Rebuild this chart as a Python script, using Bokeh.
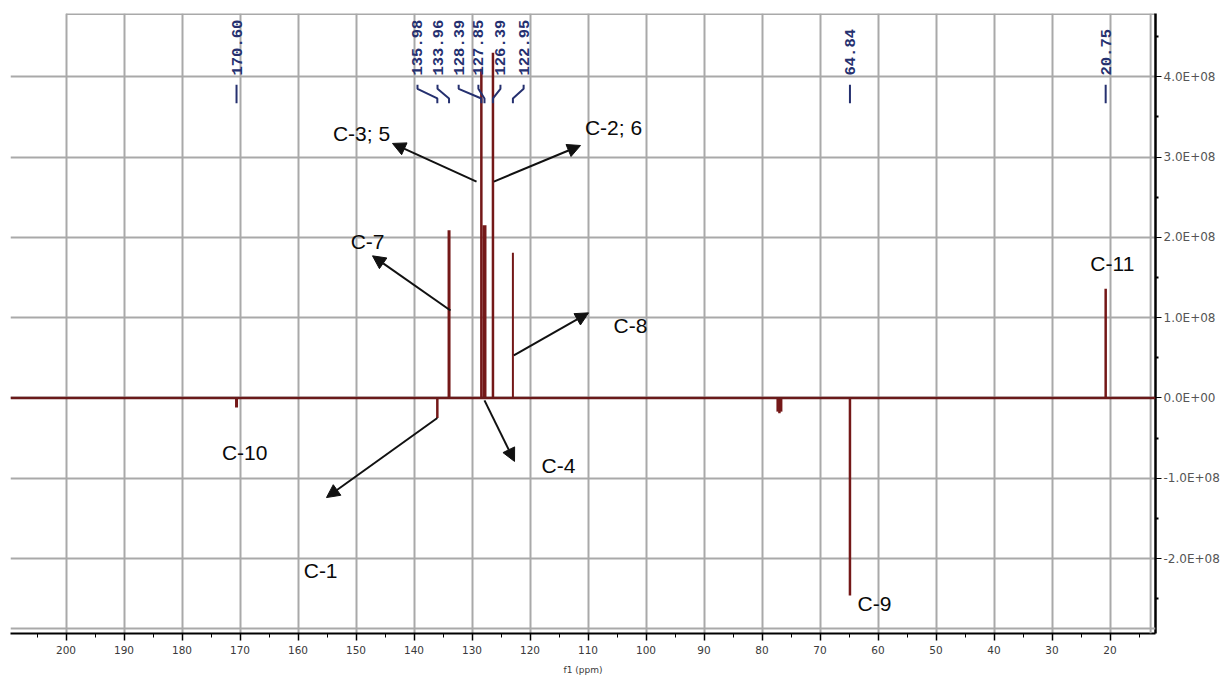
import math
from bokeh.plotting import figure
from bokeh.models import Range1d, Span, Arrow, NormalHead, FixedTicker, ColumnDataSource
from bokeh.core.properties import value
from bokeh.embed import file_html
from bokeh.resources import INLINE

# ---------------- data ----------------
peak_ppm = [170.60, 135.98, 133.96, 128.39, 127.85, 126.39, 122.95, 77.30, 77.00, 76.70, 64.84, 20.75]
peak_int = [-0.12e8, -0.25e8, 2.09e8, 4.10e8, 2.15e8, 4.30e8, 1.81e8, -0.17e8, -0.19e8, -0.17e8, -2.46e8, 1.36e8]

label_text = ["170.60", "135.98", "133.96", "128.39", "127.85", "126.39", "122.95", "64.84", "20.75"]
label_peak = [170.60, 135.98, 133.96, 128.39, 127.85, 126.39, 122.95, 64.84, 20.75]
label_pos = [170.60, 139.40, 135.95, 132.30, 128.90, 125.10, 121.10, 64.84, 20.75]

ann_text = ["C-3; 5", "C-2; 6", "C-7", "C-8", "C-10", "C-1", "C-4", "C-9", "C-11"]
ann_x = [149.05, 105.60, 148.00, 102.67, 169.20, 156.10, 115.10, 60.60, 19.60]
ann_y = [3.29e8, 3.37e8, 1.95e8, 0.90e8, -0.68e8, -2.15e8, -0.84e8, -2.56e8, 1.68e8]

arrow_x0 = [129.22, 126.24, 133.71, 122.79, 135.98, 127.85]
arrow_y0 = [2.695e8, 2.695e8, 1.09e8, 0.53e8, -0.25e8, -0.03e8]
arrow_x1 = [143.71, 111.29, 147.16, 109.91, 155.09, 122.67]
arrow_y1 = [3.17e8, 3.144e8, 1.77e8, 1.06e8, -1.24e8, -0.79e8]

x_ticks = [200, 190, 180, 170, 160, 150, 140, 130, 120, 110, 100, 90, 80, 70, 60, 50, 40, 30, 20]
x_minor = [205, 195, 185, 175, 165, 155, 145, 135, 125, 115, 105, 95, 85, 75, 65, 55, 45, 35, 25, 15]
y_ticks = [-2e8, -1e8, 0, 1e8, 2e8, 3e8, 4e8]
y_tick_labels = ["-2.0E+08", "-1.0E+08", "0.0E+00", "1.0E+08", "2.0E+08", "3.0E+08", "4.0E+08"]
y_minor = [-2.5e8, -1.5e8, -0.5e8, 0.5e8, 1.5e8, 2.5e8, 3.5e8, 4.5e8]

# ---------------- figure ----------------
X0, X1 = 209.57, 12.16
Y0, Y1 = -2.933e8, 4.788e8

p = figure(frame_width=1145, frame_height=620,
           x_range=Range1d(X0, X1), y_range=Range1d(Y0, Y1),
           y_axis_location="right", output_backend="svg", toolbar_location=None,
           min_border_left=10, min_border_top=13, min_border_right=0, min_border_bottom=0,
           background_fill_color="white", border_fill_color="white")
p.outline_line_color = None

grid_col = "#a9a9a9"
p.xgrid.ticker = FixedTicker(ticks=x_ticks)
p.ygrid.ticker = FixedTicker(ticks=y_ticks)
for g in (p.xgrid, p.ygrid):
    g.grid_line_color = grid_col
    g.grid_line_width = 2

# frame lines (top from 200 ppm, right & bottom gray lines inside black axes)
p.segment(x0=[200], y0=[Y1], x1=[X1], y1=[Y1], line_color=grid_col, line_width=3)
p.add_layout(Span(location=13.0, dimension="height", line_color=grid_col, line_width=2))
p.add_layout(Span(location=-2.87e8, dimension="width", line_color=grid_col, line_width=2))

# x axis
xa = p.xaxis[0]
xa.ticker = FixedTicker(ticks=x_ticks, minor_ticks=x_minor)
xa.axis_line_color = "black"
xa.axis_line_width = 2
xa.major_tick_in = 0
xa.major_tick_out = 7
xa.minor_tick_in = 0
xa.minor_tick_out = 4
xa.major_tick_line_width = 1.5
xa.major_label_text_font = "DejaVu Sans"
xa.major_label_text_font_size = "10.5px"
xa.major_label_text_color = "#3a3a3a"
xa.major_label_standoff = 5
xa.axis_label = "f1 (ppm)"
xa.axis_label_text_font = "DejaVu Sans"
xa.axis_label_text_font_size = "9px"
xa.axis_label_text_font_style = "normal"
xa.axis_label_text_color = "#3a3a3a"
xa.axis_label_standoff = 8

# y axis (right)
ya = p.yaxis[0]
ya.ticker = FixedTicker(ticks=y_ticks, minor_ticks=y_minor)
ya.major_label_overrides = {t: s for t, s in zip(y_ticks, y_tick_labels)}
ya.axis_line_color = "black"
ya.axis_line_width = 2.5
ya.major_tick_in = 0
ya.major_tick_out = 6
ya.minor_tick_in = 0
ya.minor_tick_out = 3
ya.minor_tick_line_width = 2
ya.major_label_text_font = "DejaVu Sans"
ya.major_label_text_font_size = "12px"
ya.major_label_text_color = "#555555"
ya.major_label_standoff = 2

# spectrum
spec_col = "#741818"
p.add_layout(Span(location=0, dimension="width", line_color="#6a1a1a", line_width=2.5))
peak_widths = [3, 2.5, 3, 2.5, 4, 2.5, 2, 2.5, 2.5, 2.5, 2.5, 2.5]
src = ColumnDataSource(dict(x=peak_ppm, y=peak_int, w=peak_widths, z=[0] * len(peak_ppm)))
p.segment(x0="x", y0="z", x1="x", y1="y", line_width="w", line_color=spec_col, source=src)

# peak labels at top
lab_col = "#25306f"
label_y = 4.016e8
p.text(x=label_pos, y=[label_y] * len(label_pos), text=label_text, angle=math.pi / 2,
       text_align="left", text_baseline="middle", text_font=value("Liberation Mono"),
       text_font_size="15.5px", text_font_style="bold", text_color=lab_col)
cy = [3.90e8, 3.85e8, 3.73e8, 3.67e8]
xs = [[lp, lp, pk, pk] for lp, pk in zip(label_pos, label_peak)]
ys = [cy for _ in label_pos]
p.multi_line(xs=xs, ys=ys, line_color=lab_col, line_width=2)

# annotations
p.text(x=ann_x, y=ann_y, text=ann_text, text_align="center", text_baseline="middle",
       text_font=value("Liberation Sans"), text_font_size="21px", text_color="#0a0a0a")
asrc = ColumnDataSource(dict(x0=arrow_x0, y0=arrow_y0, x1=arrow_x1, y1=arrow_y1))
p.add_layout(Arrow(end=NormalHead(size=13, fill_color="#111111", line_color="#111111"),
                   x_start="x0", y_start="y0", x_end="x1", y_end="y1",
                   line_color="#111111", line_width=2, source=asrc))

open("out.html", "w").write(file_html(p, INLINE))
